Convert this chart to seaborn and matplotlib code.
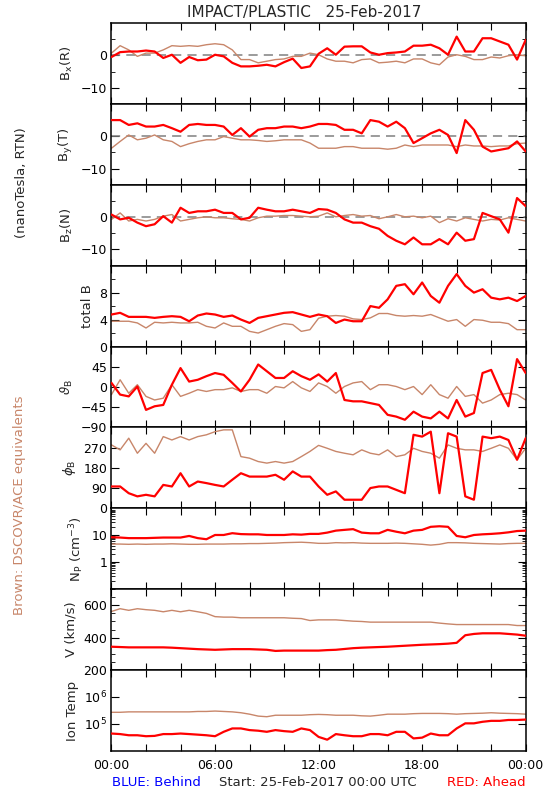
import numpy as np
import pandas as pd
import matplotlib
matplotlib.use("Agg")
import matplotlib.pyplot as plt
import seaborn as sns
from matplotlib.ticker import FixedLocator, MultipleLocator, FuncFormatter, LogLocator, NullFormatter

# time grid, hours since 25-Feb-2017 00:00 UTC
hours = np.arange(0, 24.5, 0.5)

# STEREO-A (red) and DSCOVR/ACE (brown) values every 30 min
bx_red = [-0.5, 1, 1.2, 1.2, 1.5, 1.2, -0.8, 0.2, -2.3, -0.5, -1.5, -1.3, 0.2, -0.3, -2.3, -3.4,
          -3.4, -3.2, -2.9, -3.4, -2.1, -1.0, -3.9, -3.4, 0.5, 2.2, 0.2, 2.7, 2.8, 2.8, 0.9, 0.2,
          0.7, 0.9, 1.2, 3.0, 3.0, 3.3, 2.2, 0.2, 5.8, 1.2, 1.2, 5.3, 5.3, 4.3, 3.3, -1.3, 4.8]
bx_brown = [0.7, 3, 1.7, -0.3, 0.7, 0.7, 1.7, 3, 2.8, 3, 2.8, 3.3, 3.6, 3.3, 1.7, -1.3,
            -1.3, -2.3, -1.8, -1.3, -1.1, -0.3, -0.3, 0.7, 0.2, -1.1, -1.8, -1.8, -2.3, -1.3, -1.1, -2.3,
            -2.1, -1.8, -2.3, -1.1, -1.1, -2.3, -2.9, -0.5, 0.2, -0.3, -1.3, -1.3, -0.5, -0.8, -0.1, 0.2, -0.1]
by_red = [5, 5, 3.5, 4, 3, 3, 3.5, 2.5, 1.4, 3.5, 3.8, 3.5, 3.5, 3, 0.4, 2.5,
          -0.1, 2, 2.5, 2.5, 3, 3, 2.5, 3, 3.8, 3.8, 3.5, 2, 2, 0.9, 5, 4.5,
          3, 4.5, 2.5, -2.1, -0.6, 0.9, 2, 0.4, -5.2, 5, 2, -3.2, -4.7, -4.2, -3.7, -1.6, -4.7]
by_brown = [-3.7, -1.6, 0.4, -1.1, -0.6, 0.4, -1.1, -1.6, -3.2, -2.3, -1.6, -1.1, -1.1, -0.1, -0.6, -1.1,
            -1.1, -1.3, -1.6, -1.4, -1.1, -1.1, -1.1, -2.1, -3.7, -3.7, -3.7, -3.2, -3.2, -3.7, -3.7, -3.7,
            -4, -3.7, -2.7, -3.2, -2.7, -2.7, -2.7, -2.7, -3.2, -2.7, -3, -3, -3.2, -3, -3, -2.3, -2.1]
bz_red = [0.8, -0.7, -0.2, -1.7, -2.8, -2.2, 0.3, -1.7, 2.9, 1.3, 1.8, 1.8, 2.3, 1.3, 1.3, -0.7,
          -0.2, 2.9, 2.3, 1.8, 1.8, 2.3, 1.8, 1.3, 2.5, 2.3, 1.3, -0.7, -1.7, -1.7, -2.8, -3.6,
          -5.8, -7.3, -8.4, -6.3, -8.4, -8.4, -6.8, -8.4, -4.8, -7.3, -6.8, 1.3, 0.3, -0.7, -4.8, 5.9, 3.4]
bz_brown = [-0.7, 1.3, -1.2, -0.7, -1.2, -0.7, 0.3, 0.8, -1.2, -0.7, -0.2, 0.1, -0.2, -0.2, -0.5, -0.7,
            -1.2, -0.2, 0.3, 0.3, 0.5, 0.5, 0.3, 0.1, 0.3, 1.3, 0.1, 0.5, 0.8, 0.3, 0.5, -0.5,
            0.1, 0.8, 0.1, 0.3, -0.2, 0.3, -1.7, -0.5, -1.2, -0.2, -0.7, -1.2, -0.7, -0.9, -0.2, -0.7, -1.2]
bt_red = [4.75, 5, 4.4, 4.4, 4.4, 4.25, 4.4, 4.5, 4.4, 3.75, 4.6, 4.9, 4.75, 4.4, 4.6, 4,
          3.5, 4.25, 4.5, 4.75, 5, 5.1, 4.75, 4.4, 4.75, 4.5, 3.5, 4, 3.75, 3.75, 6, 5.75,
          7, 9, 9.25, 7.75, 9.5, 7.5, 6.5, 9, 10.75, 9, 8, 8.5, 7.25, 7, 7.25, 6.75, 7.5]
bt_brown = [3.75, 3.75, 3.75, 3.5, 2.75, 3.6, 3.5, 3.6, 3.5, 3.5, 3.6, 3, 2.75, 3.5, 3, 3,
            2.25, 2, 2.5, 3, 3.4, 3.25, 2.25, 2.5, 4.2, 4.5, 4.6, 4.5, 4.1, 4, 4.25, 4.9,
            4.9, 4.6, 4.5, 4.6, 4.5, 4.75, 4.25, 3.75, 4, 3, 4, 3.9, 3.6, 3.6, 3.4, 2.5, 2.5]
theta_red = [9, -17, -21, 1, -51, -43, -40, 5, 42, 12, 16, 24, 31, 27, 9, -10,
             16, 50, 35, 20, 20, 35, 24, 16, 28, 12, 31, -29, -32, -32, -36, -40,
             -62, -66, -73, -55, -66, -70, -55, -70, -29, -66, -58, 31, 38, -6, -43, 62, 31]
theta_brown = [-17, 16, -14, 5, -21, -29, -25, 5, -21, -14, -6, -10, -6, -6, -2, -10,
               -6, -6, -14, 1, -2, 12, -2, -10, 9, 1, -14, 1, 9, 12, -6, 5,
               5, 1, -6, 1, -17, 5, -17, -25, 1, -21, -17, -36, -29, -17, -14, -17, -29]
phi_red = [97, 97, 67, 53, 60, 53, 104, 97, 156, 97, 119, 112, 104, 97, 127, 156,
           141, 141, 141, 149, 127, 164, 141, 141, 97, 60, 75, 38, 38, 38, 90, 97,
           97, 82, 67, 327, 319, 341, 67, 334, 319, 53, 38, 319, 312, 319, 304, 216, 312]
phi_brown = [282, 260, 312, 245, 289, 245, 319, 304, 319, 304, 319, 327, 341, 349, 349, 230,
             223, 208, 201, 208, 201, 208, 230, 253, 280, 267, 253, 245, 238, 260, 245, 238,
             260, 230, 238, 267, 253, 245, 223, 282, 267, 260, 260, 253, 267, 282, 267, 216, 267]
np_red = [8.4, 8.2, 7.8, 7.8, 7.8, 8.0, 8.2, 8.2, 8.2, 9.4, 7.8, 7.1, 10.2, 10.2, 11.9, 11.0,
          10.8, 10.8, 10.2, 10.2, 10.2, 10.8, 10.5, 11.2, 11.2, 12.5, 14.8, 15.8, 16.8, 12.5, 11.8, 11.8,
          15.8, 13.5, 11.8, 14.8, 15.8, 20.5, 21.5, 20.5, 9.4, 8.4, 10.2, 10.8, 11.2, 11.8, 12.8, 14.3, 14.8]
np_brown = [4.7, 4.7, 4.6, 4.7, 4.6, 4.7, 4.7, 4.8, 4.7, 4.6, 4.6, 4.7, 4.7, 4.7, 4.8, 4.8,
            4.9, 4.9, 5.0, 5.1, 5.3, 5.4, 5.5, 5.3, 5.0, 5.0, 5.3, 5.2, 5.3, 5.1, 5.0, 5.0,
            5.0, 5.1, 5.0, 4.8, 4.6, 4.3, 4.6, 5.3, 5.3, 5.2, 5.0, 4.9, 4.8, 4.7, 4.9, 5.0, 5.0]
v_red = [344, 342, 340, 340, 340, 340, 340, 338, 335, 332, 329, 327, 325, 327, 329, 329,
         329, 327, 325, 318, 320, 320, 320, 320, 320, 323, 325, 330, 335, 338, 340, 342,
         344, 347, 350, 353, 356, 358, 360, 363, 368, 415, 423, 427, 427, 427, 423, 419, 412]
v_brown = [562, 579, 569, 579, 573, 569, 560, 569, 560, 569, 560, 550, 530, 527, 527, 523,
           523, 523, 523, 523, 523, 520, 518, 506, 510, 510, 510, 506, 502, 500, 496, 496,
           496, 496, 496, 496, 496, 496, 490, 485, 481, 481, 481, 481, 481, 481, 481, 475, 475]
t_red = [4.4e4, 4.2e4, 3.8e4, 3.8e4, 3.5e4, 3.6e4, 4.2e4, 4.2e4, 4.4e4, 4.2e4, 4.0e4, 3.8e4, 3.5e4,
         5.1e4, 6.8e4, 6.8e4, 5.9e4, 5.6e4, 5.1e4, 5.9e4, 5.4e4, 5.1e4, 6.8e4, 5.9e4, 3.3e4,
         2.6e4, 4.2e4, 3.8e4, 3.5e4, 3.5e4, 4.2e4, 4.2e4, 3.8e4, 5.1e4, 5.1e4, 2.9e4, 3.1e4,
         4.4e4, 3.8e4, 3.8e4, 6.8e4, 1.05e5, 1.05e5, 1.2e5, 1.3e5, 1.3e5, 1.4e5, 1.4e5, 1.45e5]
t_brown = [2.7e5, 2.7e5, 2.8e5, 2.8e5, 2.8e5, 2.8e5, 2.8e5, 2.8e5, 2.8e5, 2.8e5, 2.9e5, 2.9e5, 3.0e5,
           2.9e5, 2.8e5, 2.6e5, 2.3e5, 1.95e5, 1.85e5, 2.1e5, 2.1e5, 2.1e5, 2.1e5, 2.2e5, 2.25e5,
           2.2e5, 2.1e5, 2.1e5, 2.1e5, 2.0e5, 1.95e5, 2.1e5, 2.3e5, 2.3e5, 2.3e5, 2.4e5, 2.45e5,
           2.45e5, 2.45e5, 2.4e5, 2.3e5, 2.4e5, 2.45e5, 2.5e5, 2.6e5, 2.5e5, 2.45e5, 2.4e5, 2.3e5]

RED = "#ff0000"
BROWN = "#c8866a"

sns.set_style("ticks")
plt.rcParams.update({
    "font.family": ["DejaVu Sans"],
    "axes.edgecolor": "black",
    "axes.linewidth": 1.1,
    "xtick.direction": "in", "ytick.direction": "in",
    "xtick.top": True, "ytick.right": True,
    "xtick.color": "black", "ytick.color": "black",
    "xtick.major.size": 5, "ytick.major.size": 6,
    "xtick.minor.size": 3, "ytick.minor.size": 3,
    "xtick.labelsize": 9, "ytick.labelsize": 9,
    "axes.labelsize": 9.5,
})

panels = [
    (bx_red, bx_brown, r"B$_\mathregular{x}$(R)"),
    (by_red, by_brown, r"B$_\mathregular{y}$(T)"),
    (bz_red, bz_brown, r"B$_\mathregular{z}$(N)"),
    (bt_red, bt_brown, "total B"),
    (theta_red, theta_brown, r"$\vartheta_\mathregular{B}$"),
    (phi_red, phi_brown, r"$\phi_\mathregular{B}$"),
    (np_red, np_brown, r"N$_\mathregular{P}$ (cm$^{-3}$)"),
    (v_red, v_brown, "V (km/s)"),
    (t_red, t_brown, "Ion Temp"),
]

fig, axes = plt.subplots(9, 1, figsize=(5.5, 8), dpi=100, sharex=True)
fig.subplots_adjust(left=0.2027, right=0.9558, top=0.9712, bottom=0.0614, hspace=0)

for i, (ax, (red, brown, label)) in enumerate(zip(axes, panels)):
    df = pd.DataFrame({"hour": hours, "red": red, "brown": brown})
    if i < 3:
        ax.axhline(0, color="#808080", lw=1.1, ls=(0, (6, 4)), zorder=1)
    sns.lineplot(data=df, x="hour", y="brown", ax=ax, color=BROWN, lw=1.0, zorder=2)
    sns.lineplot(data=df, x="hour", y="red", ax=ax, color=RED, lw=1.6, zorder=3)
    ax.set_ylabel(label, labelpad=4)
    ax.set_xlabel("")
    ax.set_xlim(0, 24)
    ax.xaxis.set_major_locator(MultipleLocator(2))
    if i < 3:
        ax.set_ylim(-15, 10)
        ax.yaxis.set_major_locator(FixedLocator([-10, 0]))
        ax.yaxis.set_minor_locator(FixedLocator([-5, 5]))
    elif i == 3:
        ax.set_ylim(0, 12)
        ax.yaxis.set_major_locator(FixedLocator([0, 4, 8]))
        ax.yaxis.set_minor_locator(FixedLocator([2, 6, 10]))
    elif i == 4:
        ax.set_ylim(-90, 90)
        ax.yaxis.set_major_locator(FixedLocator([-90, -45, 0, 45]))
    elif i == 5:
        ax.set_ylim(0, 360)
        ax.yaxis.set_major_locator(FixedLocator([0, 90, 180, 270]))
    elif i == 6:
        ax.set_yscale("log")
        ax.set_ylim(0.1, 100)
        ax.yaxis.set_major_locator(FixedLocator([1, 10]))
        ax.yaxis.set_major_formatter(FuncFormatter(lambda v, p: "%d" % v))
        ax.yaxis.set_minor_locator(LogLocator(base=10, subs=np.arange(2, 10)))
        ax.yaxis.set_minor_formatter(NullFormatter())
    elif i == 7:
        ax.set_ylim(200, 700)
        ax.yaxis.set_major_locator(FixedLocator([200, 400, 600]))
        ax.yaxis.set_minor_locator(MultipleLocator(50))
    else:
        ax.set_yscale("log")
        ax.set_ylim(1e4, 1e7)
        ax.yaxis.set_major_locator(FixedLocator([1e5, 1e6]))
        ax.yaxis.set_major_formatter(FuncFormatter(lambda v, p: r"10$^{%d}$" % round(np.log10(v))))
        ax.yaxis.set_minor_locator(LogLocator(base=10, subs=np.arange(2, 10)))
        ax.yaxis.set_minor_formatter(NullFormatter())
    ax.tick_params(axis="both", which="both", direction="in", top=True, right=True)
    ax.tick_params(axis="y", which="major", pad=3)

axes[-1].xaxis.set_major_formatter(
    FuncFormatter(lambda h, p: "%02d:00" % (int(round(h)) % 24) if round(h) % 6 == 0 else ""))
axes[-1].tick_params(axis="x", pad=6)

fig.text(304 / 550, 1 - 12 / 800, "IMPACT/PLASTIC   25-Feb-2017", ha="center", va="center", fontsize=11)
fig.text(22 / 550, 1 - 183 / 800, "(nanoTesla, RTN)", rotation=90, ha="center", va="center", fontsize=9.5)
fig.text(20 / 550, 1 - 505 / 800, "Brown: DSCOVR/ACE equivalents", rotation=90,
         ha="center", va="center", fontsize=9.5, color=BROWN)
fig.text(111.5 / 550, 1 - 783 / 800, "BLUE: Behind", ha="left", va="center", fontsize=9.5, color="#0000ff")
fig.text(318 / 550, 1 - 783 / 800, "Start: 25-Feb-2017 00:00 UTC", ha="center", va="center", fontsize=9.5)
fig.text(526 / 550, 1 - 783 / 800, "RED: Ahead", ha="right", va="center", fontsize=9.5, color=RED)

fig.savefig("out.png", dpi=100, facecolor="white")
